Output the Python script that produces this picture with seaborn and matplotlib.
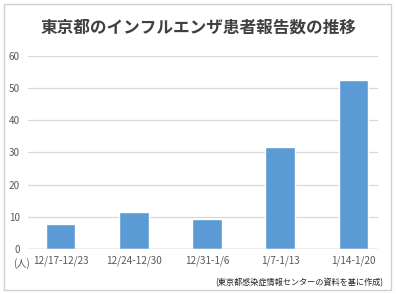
import pandas as pd
import matplotlib.pyplot as plt
import seaborn as sns
from matplotlib.patches import Rectangle

# 週ごとの報告数
weeks = ['12/17-12/23', '12/24-12/30', '12/31-1/6', '1/7-1/13', '1/14-1/20']
patients = [7.7, 11.4, 9.2, 31.6, 52.6]
yticks = [0, 10, 20, 30, 40, 50, 60]

data = pd.DataFrame({'week': weeks, 'patients': patients})

sns.set_style('white')
plt.rcParams['font.family'] = ['Noto Sans CJK JP', 'DejaVu Sans']

fig = plt.figure(figsize=(3.96, 2.94), dpi=100)
ax = fig.add_axes([0.0707, 0.153, 0.8838, 0.6575])

sns.barplot(x='week', y='patients', data=data, color='#5b9bd5',
            saturation=1, width=0.4, ax=ax, zorder=3)

ax.set_xlim(-0.45, 4.34)
ax.set_ylim(0, 60)
ax.set_yticks(yticks)
ax.yaxis.grid(True, color='#d9d9d9', linewidth=0.9, zorder=0)
ax.axhline(0, color='#bfbfbf', linewidth=1, zorder=4)
for s in ax.spines.values():
    s.set_visible(False)
ax.tick_params(axis='both', length=0, labelsize=7.2, labelcolor='#595959')
ax.tick_params(axis='y', pad=6)
ax.tick_params(axis='x', pad=5)
ax.set_xlabel('')
ax.set_ylabel('')

fig.text(0.5, 0.905, '東京都のインフルエンザ患者報告数の推移', ha='center', va='center',
         fontsize=12, fontweight='bold', color='#404040')
fig.text(0.033, 0.103, '(人)', ha='left', va='center', fontsize=7.2, color='#595959')
fig.text(0.967, 0.037, '(東京都感染症情報センターの資料を基に作成)', ha='right', va='center',
         fontsize=5.9, color='#262626')

fig.patches.append(Rectangle((0.009, 0.014), 0.978, 0.972, transform=fig.transFigure,
                             fill=False, edgecolor='#d0d0d0', linewidth=1))

fig.savefig('out.png', dpi=100)
